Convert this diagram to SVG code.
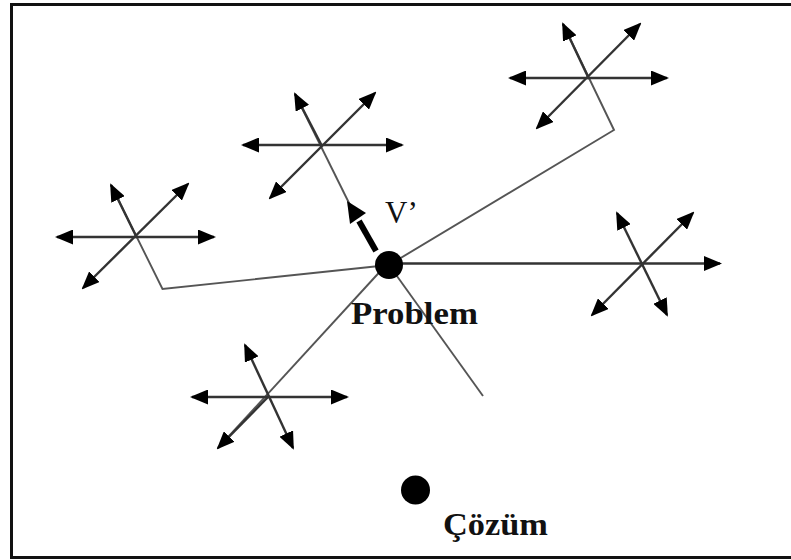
<svg xmlns="http://www.w3.org/2000/svg" width="791" height="560" viewBox="0 0 791 560">
<style>
.arm{stroke:#333;stroke-width:2.4;fill:none}
.dbl{marker-start:url(#ah);marker-end:url(#ah)}
.one{marker-end:url(#ah)}
.link{stroke:#555;stroke-width:1.9;fill:none}
.dot{fill:#000}
.lbl{font-family:"Liberation Serif","Times New Roman",serif;fill:#111}
</style>
<defs>
<marker id="ah" markerUnits="userSpaceOnUse" markerWidth="18" markerHeight="15" viewBox="0 0 18 15" refX="16" refY="7.5" orient="auto-start-reverse">
<path d="M0,0 L18,7.5 L0,15 z" fill="#000"/>
</marker>
</defs>
<rect x="0" y="0" width="791" height="560" fill="#fff"/>
<rect x="11.5" y="4.5" width="800" height="553" fill="none" stroke="#111" stroke-width="3"/>

<g id="connectors">
<polyline class="link" points="111,185 162.5,289 389,265"/>
<polyline class="link" points="563,24 614,130 389,265"/>
<line class="link" x1="389" y1="265" x2="483" y2="396"/>
<line class="link" x1="218" y1="448" x2="386" y2="265"/>
<line class="arm one" x1="389" y1="263.5" x2="720" y2="263.5"/>
<line class="link" x1="295" y1="94" x2="350" y2="205"/>
</g>

<g id="star-left">
<line class="arm dbl" x1="57" y1="237" x2="214" y2="237"/>
<line class="arm dbl" x1="83" y1="288" x2="188" y2="184"/>
<line class="arm one" x1="137" y1="238" x2="111" y2="185"/>
</g>

<g id="star-top">
<line class="arm dbl" x1="243" y1="145" x2="402" y2="145"/>
<line class="arm dbl" x1="270" y1="198" x2="375" y2="93"/>
<line class="arm one" x1="322" y1="146" x2="295" y2="94"/>
</g>

<g id="star-topright">
<line class="arm dbl" x1="510" y1="78" x2="667" y2="78"/>
<line class="arm dbl" x1="537" y1="128" x2="640" y2="24"/>
<line class="arm one" x1="589" y1="79" x2="563" y2="24"/>
</g>

<g id="star-right">
<line class="arm dbl" x1="592" y1="315" x2="693" y2="213"/>
<line class="arm dbl" x1="617" y1="213" x2="667" y2="315"/>
</g>

<g id="star-bottom">
<line class="arm dbl" x1="192" y1="397" x2="347" y2="397"/>
<line class="arm dbl" x1="245" y1="345" x2="293" y2="448"/>
<line class="arm one" x1="269" y1="396" x2="218" y2="448"/>
</g>

<g id="vprime">
<line x1="376" y1="251" x2="359" y2="221" stroke="#000" stroke-width="6"/>
<polygon points="347,201 366,213 350,224" fill="#000"/>
<text class="lbl" x="385" y="223" font-size="31">V’</text>
</g>

<g id="problem">
<circle class="dot" cx="389" cy="265" r="14"/>
<text class="lbl" x="351" y="324" font-size="31" font-weight="bold" textLength="127" lengthAdjust="spacingAndGlyphs">Problem</text>
</g>

<g id="cozum">
<circle class="dot" cx="415.5" cy="490" r="14.5"/>
<text class="lbl" x="443" y="535" font-size="31" font-weight="bold" textLength="105" lengthAdjust="spacingAndGlyphs">Çözüm</text>
</g>
</svg>
